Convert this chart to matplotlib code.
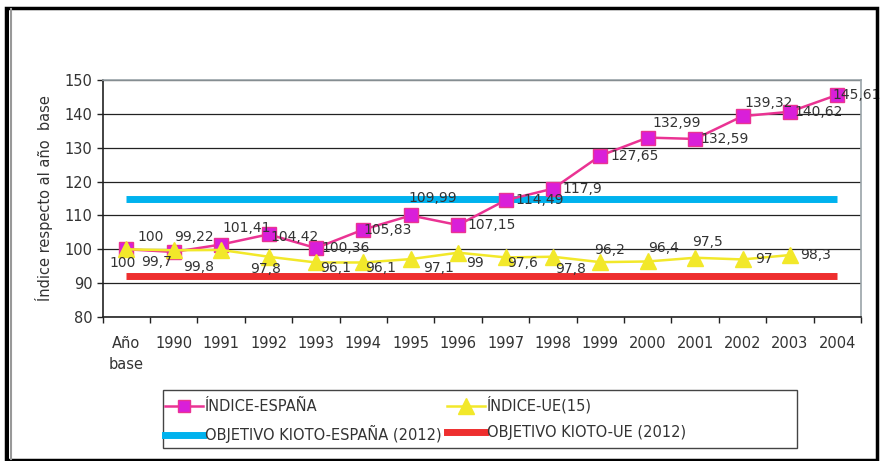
import matplotlib.pyplot as plt
from matplotlib.patches import Rectangle
from matplotlib.lines import Line2D

# Categories and series
categories = ["Año\nbase", "1990", "1991", "1992", "1993", "1994", "1995", "1996",
              "1997", "1998", "1999", "2000", "2001", "2002", "2003", "2004"]
espana = [100, 99.22, 101.41, 104.42, 100.36, 105.83, 109.99, 107.15,
          114.49, 117.9, 127.65, 132.99, 132.59, 139.32, 140.62, 145.61]
ue15 = [100, 99.7, 99.8, 97.8, 96.1, 96.1, 97.1, 99, 97.6, 97.8,
        96.2, 96.4, 97.5, 97, 98.3]
kioto_espana = 115
kioto_ue = 92

# label text as printed (comma decimal); offsets of label centres in pixels (right, down)
esp_labels = ["100", "99,22", "101,41", "104,42", "100,36", "105,83", "109,99", "107,15",
              "114,49", "117,9", "127,65", "132,99", "132,59", "139,32", "140,62", "145,61"]
esp_off = [(24, -12), (20, -15), (26, -17), (26, 3), (30, 0), (24, 0), (22, -17), (33, 0),
           (34, 0), (29, 0), (34, 0), (29, -15), (30, 0), (26, -13), (29, 0), (19, 0)]
ue_labels = ["100", "99,7", "99,8", "97,8", "96,1", "96,1", "97,1", "99",
             "97,6", "97,8", "96,2", "96,4", "97,5", "97", "98,3"]
ue_off = [(-4, 14), (-17, 12), (-23, 17), (-3, 12), (20, 6), (17, 6), (28, 9), (17, 10),
          (17, 6), (18, 12), (9, -12), (16, -13), (12, -16), (21, 0), (26, 0)]

pink = "#ea3393"
magenta = "#d91fd9"
yellow = "#f2e82a"
blue = "#00b2ee"
red = "#ee2e2e"
txt = "#333333"

plt.rcParams['font.family'] = ['DejaVu Sans']

fig = plt.figure(figsize=(8.8, 4.61), dpi=100)
ax = fig.add_axes([102.7 / 880, 1 - 317 / 461, (861 - 102.7) / 880, (317 - 80) / 461])

x = list(range(len(categories)))
xu = x[:len(ue15)]

ax.plot([x[0], x[-1]], [kioto_espana, kioto_espana], color=blue, lw=5, solid_capstyle='butt', zorder=2)
ax.plot([x[0], x[-1]], [kioto_ue, kioto_ue], color=red, lw=5, solid_capstyle='butt', zorder=2)
ax.plot(x, espana, color=pink, lw=1.8, marker='s', ms=10, mfc=magenta, mec=pink, mew=1, zorder=3)
ax.plot(xu, ue15, color=yellow, lw=1.8, marker='^', ms=12, mfc=yellow, mec=yellow, zorder=4)

px = 0.72  # points per pixel at 100 dpi
for xi, v, lab, off in zip(x, espana, esp_labels, esp_off):
    ax.annotate(lab, (xi, v), xytext=(off[0] * px, -off[1] * px), textcoords='offset points',
                ha='center', va='center', fontsize=10, color=txt, zorder=5)
for xi, v, lab, off in zip(xu, ue15, ue_labels, ue_off):
    ax.annotate(lab, (xi, v), xytext=(off[0] * px, -off[1] * px), textcoords='offset points',
                ha='center', va='center', fontsize=10, color=txt, zorder=5)

ax.set_xlim(-0.5, len(categories) - 0.5)
ax.set_ylim(80, 150)
ax.set_yticks(range(80, 151, 10))
ax.set_xticks([i - 0.5 for i in range(len(categories) + 1)], minor=False)
ax.set_xticklabels([])
ax.set_xticks(x, minor=True)
ax.set_xticklabels(categories, minor=True, fontsize=10.5, color=txt, linespacing=1.5)
ax.tick_params(axis='x', which='minor', length=0, pad=14)
ax.tick_params(axis='x', which='major', length=4, width=1, color="#222222", direction='out')
ax.tick_params(axis='y', length=4, width=1, color="#222222", labelsize=10.5, labelcolor=txt)
ax.yaxis.grid(True, color="#222222", lw=0.9)
ax.set_axisbelow(True)
for s in ["top", "right"]:
    ax.spines[s].set_color("#9aa3a8")
    ax.spines[s].set_linewidth(1.2)
for s in ["left", "bottom"]:
    ax.spines[s].set_color("#222222")
    ax.spines[s].set_linewidth(1.2)
ax.set_ylabel("Índice respecto al año  base", fontsize=10.5, color=txt, labelpad=8)

handles = [
    Line2D([], [], color=pink, lw=1.8, marker='s', ms=9, mfc=magenta, mec=pink),
    Line2D([], [], color=blue, lw=5),
    Line2D([], [], color=yellow, lw=1.8, marker='^', ms=11, mfc=yellow, mec=yellow),
    Line2D([], [], color=red, lw=5),
]
names = ["ÍNDICE-ESPAÑA", "OBJETIVO KIOTO-ESPAÑA (2012)", "ÍNDICE-UE(15)", "OBJETIVO KIOTO-UE (2012)"]
leg = fig.legend(handles, names, ncol=2, loc='upper left',
                 bbox_to_anchor=(164 / 880, 1 - 395 / 461),
                 fontsize=10.5, frameon=False,
                 handlelength=2.6, handletextpad=0.1, columnspacing=0.4,
                 labelspacing=0.75, borderaxespad=0, borderpad=0.1)
for t in leg.get_texts():
    t.set_color(txt)
fig.patches.append(Rectangle((163 / 880, 1 - 448 / 461), (797 - 163) / 880, (448 - 390) / 461,
                             transform=fig.transFigure, fill=False, edgecolor="#444444", lw=1.0))

# outer frame
fig.patches.append(Rectangle((6 / 880, 1 - 460 / 461), 871 / 880, 452 / 461, transform=fig.transFigure,
                             fill=False, edgecolor='black', lw=2.5))
fig.patches.append(Rectangle((5 / 880, 1 - 460 / 461), 4 / 880, 452 / 461, transform=fig.transFigure,
                             facecolor='black', edgecolor='none'))
fig.lines.append(Line2D([10.5 / 880, 10.5 / 880], [1 - 459 / 461, 1 - 9 / 461], transform=fig.transFigure,
                        color="#999999", lw=1.5))

fig.savefig("out.png", dpi=100)
